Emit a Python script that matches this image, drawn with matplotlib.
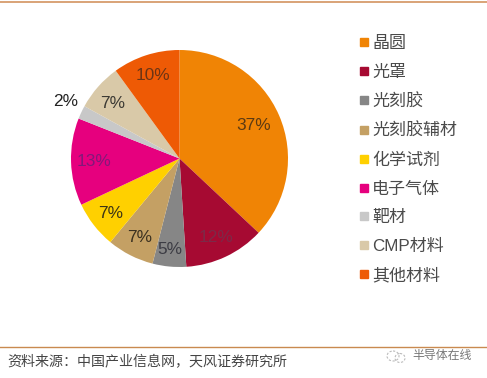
import matplotlib
matplotlib.use("Agg")
import matplotlib.pyplot as plt
from matplotlib.patches import Ellipse
from matplotlib.lines import Line2D

plt.rcParams['font.family'] = ['Liberation Sans', 'Noto Sans CJK SC', 'DejaVu Sans']

W, H = 487, 378

# data
categories = ['晶圆', '光罩', '光刻胶', '光刻胶辅材', '化学试剂', '电子气体', '靶材', 'CMP材料', '其他材料']
values = [37, 12, 5, 7, 7, 13, 2, 7, 10]
colors = ['#f08405', '#a60a32', '#868686', '#c4a064', '#ffd000', '#e6007e', '#c8c8c8', '#d9c9a8', '#ee5a05']
label_colors = ['#5c3a12', '#7c2a48', '#3c3c44', '#3a3020', '#3c3416', '#83187a', '#222222', '#3c3a34', '#6b3415']

# label centres in pixels, measured from the top left
label_x = [254, 216, 170, 140, 111, 94, 66, 113, 153]
label_y = [125, 237, 249, 238, 213, 162, 101, 103, 76]

fig = plt.figure(figsize=(W / 100, H / 100), dpi=100)

cx, cy, r = 179.5, 158.5, 108.5
ax = fig.add_axes([(cx - r) / W, 1 - (cy + r) / H, 2 * r / W, 2 * r / H])
wedges, _ = ax.pie(values, colors=colors, startangle=90, counterclock=False, radius=1)
ax.set_xlim(-1, 1)
ax.set_ylim(-1, 1)

# overlay in pixel coordinates for rules and text
over = fig.add_axes([0, 0, 1, 1], facecolor='none')
over.set_xlim(0, W)
over.set_ylim(H, 0)
over.axis('off')

for v, x, y, c in zip(values, label_x, label_y, label_colors):
    over.text(x, y, f'{v}%', color=c, fontsize=12.4, ha='center', va='center')

# legend
leg_px = 17
handles = [Line2D([], [], ls='none', marker='s', ms=5.8, mfc=c, mec=c) for c in colors]
leg = fig.legend(handles, categories, loc='upper left', bbox_to_anchor=(360.5 / W, 1 - 36 / H),
                 frameon=False, fontsize=leg_px * 0.72, labelcolor='#4a4a4a',
                 handlelength=0.4, handletextpad=0.28, labelspacing=0.80, borderpad=0, borderaxespad=0)

# rules and footer
over.plot([0, W], [1.5, 1.5], color='#cf8a52', lw=1.1)
over.plot([0, W], [346.5, 346.5], color='#c98a50', lw=1.0)
over.text(7, 362, '资料来源：中国产业信息网，天风证券研究所', fontsize=10.1, color='#444444', va='center', ha='left')
over.text(412, 356, '半导体在线', fontsize=8.6, color='#777777', va='center', ha='left')
over.add_patch(Ellipse((393, 356), 12, 10, fill=False, ec='#bbbbbb', lw=0.8, ls=(0, (2, 1.5))))
over.add_patch(Ellipse((400, 358), 10, 9, fill=False, ec='#bbbbbb', lw=0.8, ls=(0, (2, 1.5))))

fig.savefig('out.png', dpi=100)
